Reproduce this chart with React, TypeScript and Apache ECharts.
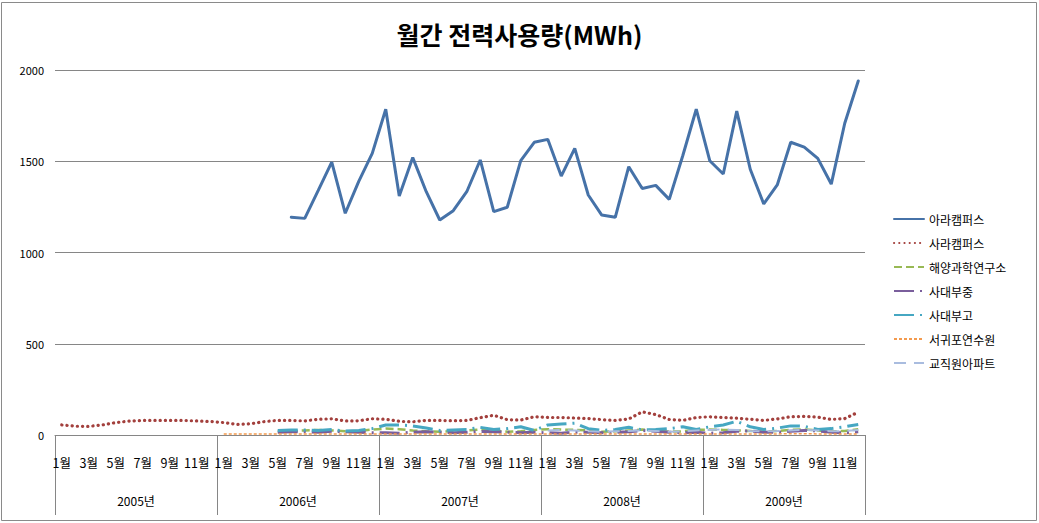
import React, { useEffect, useRef } from "react";
import * as echarts from "echarts";

const years = ["2005년", "2006년", "2007년", "2008년", "2009년"];
const monthNames = ["1월", "2월", "3월", "4월", "5월", "6월", "7월", "8월", "9월", "10월", "11월", "12월"];
const months: string[] = years.flatMap(() => monthNames);

const _ = null;
const araCampus = [
  _, _, _, _, _, _, _, _, _, _, _, _,
  _, _, _, _, _, 1193, 1187, 1340, 1495, 1215, 1390, 1543,
  1785, 1310, 1520, 1333, 1178, 1229, 1333, 1507, 1224, 1248, 1503, 1604,
  1620, 1419, 1571, 1315, 1205, 1193, 1470, 1351, 1368, 1291, 1530, 1785,
  1503, 1430, 1775, 1456, 1266, 1370, 1604, 1577, 1516, 1375, 1708, 1940,
];
const saraCampus = [
  55, 48, 47, 55, 68, 76, 80, 80, 80, 80, 77, 74,
  68, 58, 62, 73, 80, 80, 77, 86, 89, 77, 78, 89,
  86, 75, 72, 80, 80, 78, 80, 95, 108, 84, 82, 100,
  96, 96, 93, 90, 84, 80, 88, 127, 112, 85, 80, 96,
  100, 96, 92, 86, 80, 88, 100, 102, 98, 85, 90, 125,
];
const marineInst = [
  _, _, _, _, _, _, _, _, _, _, _, _,
  _, _, _, _, 20, 22, 25, 28, 25, 20, 22, 30,
  35, 32, 25, 20, 18, 22, 25, 30, 25, 18, 20, 28,
  32, 30, 28, 25, 18, 20, 25, 30, 25, 18, 20, 28,
  30, 28, 25, 22, 18, 22, 28, 30, 25, 20, 22, 32,
];
const middleSchool = [
  _, _, _, _, _, _, _, _, _, _, _, _,
  _, _, _, _, 15, 18, 18, 15, 20, 18, 15, 12,
  12, 10, 15, 18, 15, 12, 15, 20, 18, 15, 12, 15,
  12, 10, 15, 15, 12, 15, 18, 25, 20, 15, 12, 15,
  10, 12, 20, 22, 15, 15, 20, 25, 22, 15, 12, 18,
];
const highSchool = [
  _, _, _, _, _, _, _, _, _, _, _, _,
  _, _, _, _, 25, 28, 28, 25, 30, 22, 25, 35,
  55, 55, 50, 38, 25, 28, 30, 42, 30, 35, 45, 25,
  55, 60, 65, 35, 25, 30, 42, 28, 30, 35, 45, 30,
  45, 55, 75, 45, 30, 38, 50, 48, 30, 35, 45, 58,
];
const seogwipo = [
  _, _, _, _, _, _, _, _, _, _, _, _,
  5, 5, 5, 5, 5, 6, 6, 6, 5, 5, 5, 6,
  6, 6, 5, 5, 5, 6, 6, 6, 5, 5, 5, 6,
  6, 6, 5, 5, 5, 6, 6, 6, 5, 5, 5, 6,
  6, 6, 5, 5, 5, 6, 7, 7, 6, 5, 5, 6,
];
const staffApt = [
  _, _, _, _, _, _, _, _, _, _, _, _,
  _, _, _, _, _, _, _, _, _, _, _, _,
  _, _, _, _, _, _, _, _, _, _, _, _,
  25, 28, 25, 20, 18, 20, 22, 25, 22, 18, 20, 25,
  28, 30, 28, 22, 20, 22, 25, 28, 25, 20, 22, 28,
];

const FONT = "'Noto Sans CJK KR', 'Noto Sans', sans-serif";

export default function App() {
  const ref = useRef<HTMLDivElement>(null);
  useEffect(() => {
    if (!ref.current) return;
    const chart = echarts.init(ref.current, null, { renderer: "svg" });
    const mk = (name: string, data: (number | null)[], color: string, width: number, type: any, cap: any = "butt") => ({
      name,
      type: "line",
      data,
      symbol: "none",
      connectNulls: false,
      lineStyle: { color, width, type, cap },
      itemStyle: { color },
    });
    chart.setOption({
      animation: false,
      backgroundColor: "#ffffff",
      textStyle: { fontFamily: FONT },
      title: {
        text: "월간 전력사용량(MWh)",
        left: "center",
        top: 16,
        textStyle: { fontFamily: FONT, fontSize: 25, fontWeight: "bold", color: "#000" },
      },
      graphic: [
        {
          type: "rect",
          shape: { x: 1.5, y: 2.5, width: 1035, height: 518 },
          style: { fill: "none", stroke: "#8a8a8a", lineWidth: 1 },
          silent: true,
        },
      ],
      legend: {
        orient: "vertical",
        left: 888,
        top: 208,
        itemWidth: 30,
        itemHeight: 12,
        itemGap: 12,
        itemStyle: { opacity: 0 },
        textStyle: { fontFamily: FONT, fontSize: 12, color: "#000" },
      },
      grid: { left: 55, right: 174, top: 70, bottom: 88, containLabel: false },
      xAxis: [
        {
          type: "category",
          data: months,
          boundaryGap: true,
          position: "bottom",
          axisLine: { show: true, lineStyle: { color: "#868686", width: 1 } },
          axisTick: { show: false },
          axisLabel: { interval: 1, margin: 21, fontSize: 12.5, color: "#000", fontFamily: FONT },
          splitLine: { show: false },
        },
        {
          type: "category",
          data: years,
          boundaryGap: true,
          position: "bottom",
          axisLine: { show: false },
          axisTick: { show: true, length: 80, lineStyle: { color: "#868686", width: 1 } },
          axisLabel: { margin: 59, fontSize: 12, color: "#000", fontFamily: FONT },
          splitLine: { show: false },
        },
      ],
      yAxis: {
        type: "value",
        min: 0,
        max: 2000,
        interval: 500,
        axisLine: { show: false },
        axisTick: { show: false },
        axisLabel: {
          margin: 11,
          fontSize: 11,
          color: "#000",
          fontFamily: FONT,
          formatter: (v: number) => String(v),
        },
        splitLine: { show: true, lineStyle: { color: "#868686", width: 1 } },
      },
      series: [
        mk("아라캠퍼스", araCampus, "#4672a8", 3, "solid", "round"),
        mk("사라캠퍼스", saraCampus, "#a3403d", 3.2, [0.2, 5], "round"),
        mk("해양과학연구소", marineInst, "#98b954", 2.5, [8, 4]),
        mk("사대부중", middleSchool, "#7a5e9c", 3, [20, 6, 2, 6]),
        mk("사대부고", highSchool, "#46a7c2", 3, [20, 6, 2, 6]),
        mk("서귀포연수원", seogwipo, "#f39a4e", 1.5, [3, 2]),
        mk("교직원아파트", staffApt, "#a9bcdf", 2, [12, 8]),
      ],
    });
    return () => chart.dispose();
  }, []);
  return (
    <div
      ref={ref}
      style={{ position: "absolute", left: 0, top: 0, width: 1039, height: 523 }}
    />
  );
}
